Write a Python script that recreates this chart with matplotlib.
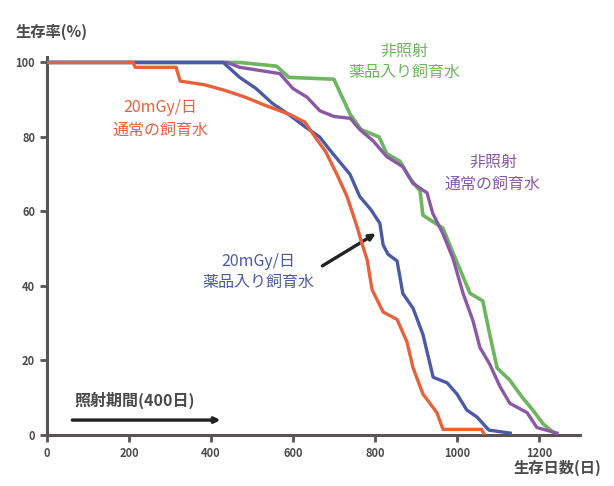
import matplotlib.pyplot as plt
import matplotlib as mpl

# ======================
# 全局风格
# ======================
mpl.rcParams["font.family"] = ["Noto Sans CJK JP", "DejaVu Sans"]
mpl.rcParams["axes.unicode_minus"] = False

# ======================
# 数据 (読み取り値)
# ======================
red_days = [0, 210, 215, 315, 325, 385, 434, 483, 532, 593, 629, 654, 680, 707,
            732, 756, 768, 781, 793, 820, 854, 878, 893, 917, 951, 966, 1060, 1066]
red_pct = [100, 100, 98.7, 98.7, 95, 94, 92.5, 90.7, 88.5, 86, 84, 80, 76, 70,
           64, 56, 51.5, 47, 39, 33, 31, 25, 18, 11, 6, 1.5, 1.5, 0.3]

blue_days = [0, 430, 470, 510, 550, 590, 630, 665, 690, 739, 763, 790, 812, 820,
             832, 854, 868, 893, 917, 942, 976, 1000, 1024, 1049, 1078, 1130]
blue_pct = [100, 100, 96, 93, 89, 86, 82.7, 80, 76.5, 70, 64, 60.5, 56.8, 51,
            48.5, 46.7, 38, 34, 27, 15.5, 14, 11, 6.7, 4.8, 1.3, 0.5]

purple_days = [0, 440, 470, 568, 600, 634, 666, 700, 740, 763, 795, 829, 868, 893,
               927, 941, 966, 990, 1015, 1039, 1056, 1080, 1105, 1129, 1171, 1195,
               1244]
purple_pct = [100, 100, 98.7, 97, 93, 90.7, 87, 85.5, 85, 82, 79, 74.7, 72, 67.5,
              65, 59.5, 54, 47.5, 38, 30.7, 23.5, 19, 13, 8.5, 6, 2, 0.5]

green_days = [0, 470, 560, 590, 700, 720, 740, 766, 810, 829, 861, 885, 910, 917,
              966, 990, 1032, 1063, 1080, 1098, 1129, 1160, 1185, 1210, 1237]
green_pct = [100, 100, 99, 96, 95.5, 90.7, 86, 82, 80, 75.5, 73.5, 69, 65.5, 59,
             55.5, 49, 38, 36, 27, 18, 14.7, 10, 6.7, 3, 0.5]

x_ticks = [0, 200, 400, 600, 800, 1000, 1200]
y_ticks = [0, 20, 40, 60, 80, 100]

# 配色
c_red = "#E8603C"
c_blue = "#4A5AA8"
c_purple = "#8B58A6"
c_green = "#6DB55E"
c_axis = "#5a5355"
c_text = "#4a4a4a"

# ======================
# 建图
# ======================
fig = plt.figure(figsize=(6.14, 4.86), dpi=100)
ax = fig.add_axes([0.0765, 0.105, 0.868, 0.778])

ax.plot(green_days, green_pct, color=c_green, lw=2.6, zorder=2)
ax.plot(purple_days, purple_pct, color=c_purple, lw=2.4, zorder=3)
ax.plot(blue_days, blue_pct, color=c_blue, lw=2.4, zorder=4)
ax.plot(red_days, red_pct, color=c_red, lw=2.4, zorder=5)

ax.set_xlim(0, 1300)
ax.set_ylim(0, 101.5)

# 坐标轴
for s in ["top", "right"]:
    ax.spines[s].set_visible(False)
for s in ["left", "bottom"]:
    ax.spines[s].set_color(c_axis)
    ax.spines[s].set_linewidth(2.2)

ax.set_xticks(x_ticks)
ax.set_yticks(y_ticks)
ax.tick_params(axis="both", colors=c_axis, width=2, length=5, labelsize=8,
               labelcolor=c_text)
for lab in ax.get_xticklabels() + ax.get_yticklabels():
    lab.set_fontweight("bold")

# 轴标签
fig.text(0.025, 0.925, "生存率(%)", fontsize=11, color=c_text, fontweight="bold")
fig.text(0.98, 0.028, "生存日数(日)", fontsize=11, color=c_text,
         fontweight="bold", ha="right")

# ======================
# 注释
# ======================
fs = 11.5
ax.text(276, 88, "20mGy/日", color=c_red, fontsize=fs, ha="center", va="center")
ax.text(276, 81.7, "通常の飼育水", color=c_red, fontsize=fs, ha="center",
        va="center")

ax.text(873, 103, "非照射", color=c_green, fontsize=fs, ha="center",
        va="center", clip_on=False)
ax.text(873, 97.3, "薬品入り飼育水", color=c_green, fontsize=fs, ha="center",
        va="center")

ax.text(1088, 73.3, "非照射", color=c_purple, fontsize=fs, ha="center",
        va="center")
ax.text(1088, 67.2, "通常の飼育水", color=c_purple, fontsize=fs, ha="center",
        va="center")

ax.text(515, 46.5, "20mGy/日", color=c_blue, fontsize=fs, ha="center",
        va="center")
ax.text(515, 41, "薬品入り飼育水", color=c_blue, fontsize=fs, ha="center",
        va="center")

ax.annotate("", xy=(808, 54.5), xytext=(666, 45),
            arrowprops=dict(arrowstyle="-|>", color="#222222", lw=2.4,
                            mutation_scale=9))

# 照射期間
ax.text(68, 9.3, "照射期間(400日)", color=c_text, fontsize=fs, va="center",
        fontweight="bold")
ax.annotate("", xy=(430, 4), xytext=(55, 4),
            arrowprops=dict(arrowstyle="-|>", color="#222222", lw=2.4,
                            mutation_scale=8))

plt.savefig("out.png", dpi=100)
